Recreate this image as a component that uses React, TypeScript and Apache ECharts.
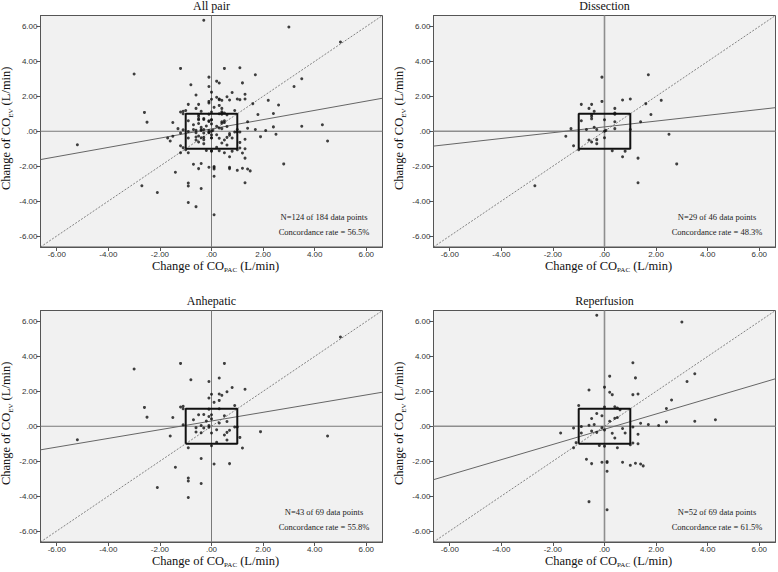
import React, { useEffect, useRef } from 'react';
import * as echarts from 'echarts';

const panelTitles = ['All pair', 'Dissection', 'Anhepatic', 'Reperfusion'];
const pointCounts = ['N=124 of 184 data points', 'N=29 of 46 data points', 'N=43 of 69 data points', 'N=52 of 69 data points'];
const concordanceRates = ['Concordance rate = 56.5%', 'Concordance rate = 48.3%', 'Concordance rate = 55.8%', 'Concordance rate = 61.5%'];
const tickValues = [-6, -4, -2, 0, 2, 4, 6];
const regressionSlope = [0.265, 0.166, 0.249, 0.436];
const regressionIntercept = [0.135, 0.25, 0.3, -0.17];
const exclusionZone = [-1, 1];

const dissection: number[][] = [
  [1.7, 3.24], [-0.1, 3.1], [-0.9, 1.54], [-0.5, 1.54], [-0.6, 1.31], [-0.1, 1.71], [0.7, 1.79], [1.0, 1.85],
  [2.2, 1.77], [1.6, 1.58], [0.4, 1.31], [0.4, 1.04], [-0.4, 1.14], [-0.5, 0.96], [-0.5, 0.71], [1.8, 0.96],
  [-0.9, 0.6], [0.0, 0.66], [0.4, 0.54], [1.4, 0.54], [-1.3, 0.15], [-0.7, 0.1], [-0.4, 0.23], [-0.3, 0.1],
  [0.4, 0.15], [1.0, 0.1], [0.0, 0.0], [-1.5, -0.29], [2.5, -0.17], [-0.6, -0.5], [-0.5, -0.62], [-0.3, -0.48],
  [0.0, -0.37], [-0.3, -0.71], [-1.2, -0.83], [-1.0, -1.06], [0.3, -1.12], [0.8, -1.14], [0.7, -1.46], [1.3, -1.54],
  [2.8, -1.87], [1.3, -2.95], [-2.7, -3.12], [-0.5, 0.85], [0.4, 0.98], [0.05, 0.05],
];

const anhepatic: number[][] = [
  [5.0, 5.11], [-3.0, 3.28], [-1.2, 3.6], [0.5, 3.6], [-0.8, 2.66], [-0.1, 2.56], [0.3, 2.76], [0.8, 2.22],
  [1.3, 2.12], [0.6, 1.98], [0.0, 1.83], [0.3, 1.85], [0.4, 1.77], [-0.1, 1.62], [0.1, 1.37], [0.3, 1.48],
  [0.9, 1.19], [-1.2, 1.1], [-1.1, 1.14], [-1.1, 1.0], [-2.6, 1.08], [-2.5, 0.52], [-1.5, 0.5], [-0.1, 0.98],
  [0.3, 1.0], [-0.5, 0.66], [-0.3, 0.67], [-0.1, 0.56], [0.0, 0.66], [-0.7, 0.37], [0.0, 0.42], [0.3, 0.19],
  [0.6, 0.27], [-1.1, 0.08], [-0.4, 0.04], [-0.1, 0.04], [-0.1, -0.06], [-0.6, -0.08], [-0.3, -0.1], [0.9, -0.04],
  [1.0, -0.04], [0.7, -0.23], [0.6, -0.35], [-0.6, -0.33], [-0.4, -0.37], [0.0, -0.39], [0.5, -0.5], [1.1, -0.64],
  [1.9, -0.31], [4.5, -0.56], [-5.2, -0.77], [-1.6, -0.56], [0.6, -0.79], [0.2, -0.92], [0.0, -1.12], [-0.9, -1.23],
  [1.2, -1.25], [-0.4, -1.85], [0.1, -2.16], [0.7, -2.14], [-1.4, -2.35], [-0.9, -2.97], [-0.9, -3.14], [-0.4, -3.28],
  [-2.1, -3.51], [-0.9, -4.08], [-0.2, 0.3], [0.2, -0.2], [0.5, 0.6],
];

const reperfusion: number[][] = [
  [-0.3, 6.36], [3.0, 5.97], [1.1, 3.64], [0.2, 2.87], [1.2, 2.77], [3.5, 3.01], [3.2, 2.56], [0.0, 2.24],
  [-0.6, 2.08], [0.2, 1.95], [0.3, 1.81], [1.1, 1.81], [1.3, 1.85], [2.6, 1.5], [2.4, 1.02], [-1.0, 1.19],
  [0.0, 1.1], [0.4, 1.12], [0.5, 1.04], [0.6, 0.94], [-0.3, 0.73], [-0.1, 0.6], [-0.5, 0.44], [0.4, 0.46],
  [0.5, 0.5], [0.2, 0.29], [1.4, 0.17], [1.7, 0.1], [2.1, 0.04], [2.4, 0.25], [3.5, 0.29], [4.3, 0.37],
  [-0.9, -0.02], [-0.6, 0.06], [-1.2, -0.1], [-0.1, -0.08], [1.1, -0.04], [-1.7, -0.39], [-0.9, -0.39], [-0.5, -0.27],
  [-0.3, -0.35], [0.0, -0.21], [0.7, -0.13], [0.8, -0.39], [1.3, -0.46], [0.4, -0.67], [-1.1, -0.94], [-1.2, -1.23],
  [-0.2, -1.1], [0.0, -1.14], [0.5, -1.23], [1.0, -1.06], [1.1, -0.96], [1.3, -1.0], [-0.7, -1.89], [-0.5, -2.14],
  [-0.1, -2.06], [0.1, -2.02], [0.1, -2.08], [0.7, -2.06], [1.0, -2.24], [1.2, -2.12], [1.4, -2.16], [1.5, -2.27],
  [0.1, -2.58], [-0.6, -4.32], [0.1, -4.78], [0.3, -0.4], [-0.4, 0.1],
];

const allPairs: number[][] = [...dissection, ...anhepatic, ...reperfusion];
const panelData = [allPairs, dissection, anhepatic, reperfusion];

const AX = 6.63;
const gridLefts = [40.5, 433.5, 40.5, 433.5];
const gridTops = [15.5, 15.5, 310.5, 310.5];
const zeroLineWidths = [1, 1.6, 1, 1.6];
const zeroLineColors = ['#7a7a7a', '#8e8e8e', '#7a7a7a', '#8e8e8e'];
const GW = 342;
const GH = 231.5;

const serif = '"Liberation Serif", "Times New Roman", serif';
const sans = '"Liberation Sans", Arial, sans-serif';

const fmt = (v: number) => (v === 0 ? '.00' : v.toFixed(2));

const nameRich = {
  a: { fontFamily: serif, fontSize: 12.5, color: '#111', lineHeight: 14, verticalAlign: 'top' },
  s: { fontFamily: serif, fontSize: 7, color: '#111', lineHeight: 7, padding: [7.5, 0, 0, 0], verticalAlign: 'top' },
};

export default function App() {
  const ref = useRef<HTMLDivElement>(null);
  useEffect(() => {
    if (!ref.current) return;
    const chart = echarts.init(ref.current, undefined, { renderer: 'svg' });

    const grids: any[] = [];
    const xAxes: any[] = [];
    const yAxes: any[] = [];
    const series: any[] = [];
    const graphics: any[] = [];

    const axisCommon = (i: number) => ({
      gridIndex: i,
      type: 'value',
      min: -AX,
      max: AX,
      axisLine: { show: true, onZero: false, lineStyle: { color: '#555', width: 1 } },
      axisTick: { show: true, customValues: tickValues, length: 4, lineStyle: { color: '#555', width: 1 } },
      axisLabel: { customValues: tickValues, formatter: fmt, fontSize: 8, color: '#333', fontFamily: sans, margin: 3 },
      splitLine: { show: false },
      nameLocation: 'middle',
    });

    for (let i = 0; i < 4; i++) {
      grids.push({
        left: gridLefts[i], top: gridTops[i], width: GW, height: GH,
        show: true, backgroundColor: '#f1f1f1', borderColor: '#555', borderWidth: 1,
        containLabel: false, outerBoundsMode: 'none',
      });
      xAxes.push({
        ...axisCommon(i),
        name: '{a|Change of CO}{s|PAC}{a| (L/min)}',
        nameGap: 12,
        nameTextStyle: {
          fontFamily: serif, fontSize: 12.5, color: '#111', padding: [0, 0, 0, 8],
          rich: nameRich,
        },
      });
      yAxes.push({
        ...axisCommon(i),
        name: '{a|Change of CO}{s|EV}{a| (L/min)}',
        nameGap: 27,
        nameTextStyle: {
          fontFamily: serif, fontSize: 12.5, color: '#111', padding: [0, 0, 0, 6],
          rich: nameRich,
        },
      });

      const base = { xAxisIndex: i, yAxisIndex: i, silent: true, animation: false };
      const lineBase = { ...base, type: 'line', showSymbol: false, symbol: 'none' };
      const zeroStyle = { color: zeroLineColors[i], width: zeroLineWidths[i] };
      series.push({ ...lineBase, z: 1, data: [[0, -AX], [0, AX]], lineStyle: zeroStyle });
      series.push({ ...lineBase, z: 1, data: [[-AX, 0], [AX, 0]], lineStyle: zeroStyle });
      series.push({
        ...lineBase, z: 2,
        data: [[-AX, -AX], [AX, AX]],
        lineStyle: { color: '#666', width: 0.8, type: [2, 1.5] },
      });
      const m = regressionSlope[i];
      const b = regressionIntercept[i];
      series.push({
        ...lineBase, z: 2,
        data: [[-AX, b - m * AX], [AX, b + m * AX]],
        lineStyle: { color: '#666', width: 1 },
      });
      const lo = exclusionZone[0];
      const hi = exclusionZone[1];
      series.push({
        ...lineBase, z: 3,
        data: [[lo, lo], [hi, lo], [hi, hi], [lo, hi], [lo, lo]],
        lineStyle: { color: '#111', width: 2 },
      });
      series.push({
        ...base, type: 'scatter', z: 4,
        data: panelData[i],
        symbol: 'circle',
        symbolSize: 3,
        itemStyle: { color: '#111' },
      });

      const cx = gridLefts[i] + GW / 2;
      graphics.push({
        type: 'text', x: cx, y: gridTops[i] - 10,
        style: {
          text: panelTitles[i], fontSize: 12, fontFamily: serif, fill: '#111',
          textAlign: 'center', textVerticalAlign: 'middle', align: 'center', verticalAlign: 'middle',
        },
      });
      const tx = gridLefts[i] + GW - 58.5;
      graphics.push({
        type: 'text', x: tx, y: gridTops[i] + GH - 30.5,
        style: {
          text: pointCounts[i], fontSize: 8.5, fontFamily: serif, fill: '#222',
          textAlign: 'center', textVerticalAlign: 'middle', align: 'center', verticalAlign: 'middle',
        },
      });
      graphics.push({
        type: 'text', x: tx, y: gridTops[i] + GH - 15.5,
        style: {
          text: concordanceRates[i], fontSize: 8.5, fontFamily: serif, fill: '#222',
          textAlign: 'center', textVerticalAlign: 'middle', align: 'center', verticalAlign: 'middle',
        },
      });
    }

    chart.setOption({
      animation: false,
      backgroundColor: '#ffffff',
      grid: grids,
      xAxis: xAxes,
      yAxis: yAxes,
      series,
      graphic: { elements: graphics },
    });

    return () => chart.dispose();
  }, []);

  return (
    <div
      ref={ref}
      style={{ position: 'fixed', left: 0, top: 0, width: 778, height: 572, background: '#fff' }}
    />
  );
}
